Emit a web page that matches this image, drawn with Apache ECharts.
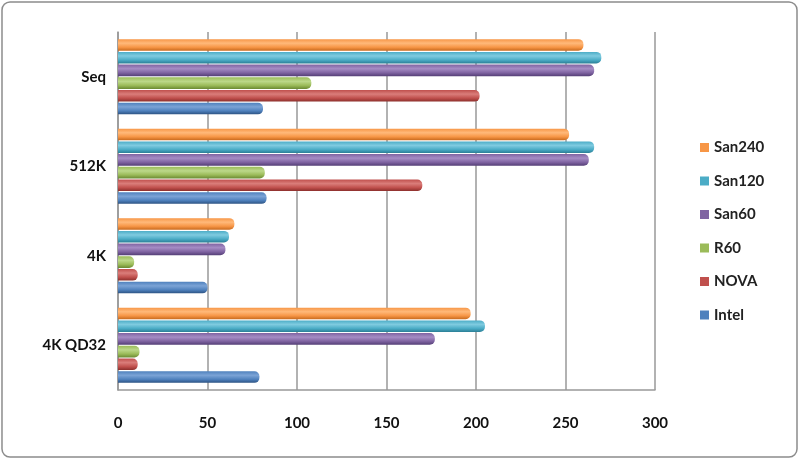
<!DOCTYPE html>
<html>
<head>
<meta charset="utf-8">
<script src="https://cdn.jsdelivr.net/npm/echarts@6/dist/echarts.min.js"></script>
<style>
  html, body { margin: 0; padding: 0; background: #fff; }
  #chart { width: 800px; height: 460px; }
</style>
</head>
<body>
<div id="chart"></div>
<script>
const categories = ['4K QD32', '4K', '512K', 'Seq'];
const seriesNames = ['Intel', 'NOVA', 'R60', 'San60', 'San120', 'San240'];
const intel  = [79, 50, 83, 81];
const nova   = [11, 11, 170, 202];
const r60    = [12, 9, 82, 108];
const san60  = [177, 60, 263, 266];
const san120 = [205, 62, 266, 270];
const san240 = [197, 65, 252, 260];
const xTicks = [0, 50, 100, 150, 200, 250, 300];

const values = [intel, nova, r60, san60, san120, san240];
const colors = ['#4F81BD', '#C0504D', '#9BBB59', '#8064A2', '#4BACC6', '#F79646'];
const darks  = ['#2c5282', '#8b2e2b', '#6b8a33', '#553f77', '#2b7f96', '#c86a1e'];
const lights = ['#7ba3d6', '#da7d7a', '#bcd88a', '#a58cc4', '#7fcbe0', '#ffb97a'];

const chart = echarts.init(document.getElementById('chart'));

// ECharts stacks the first series on top in a horizontal group, so go San240 -> Intel
const order = [5, 4, 3, 2, 1, 0];
const series = order.map(i => ({
    name: seriesNames[i],
    type: 'bar',
    data: values[i],
    barCategoryGap: '16%',
    barGap: '10%',
    itemStyle: {
        color: {
            type: 'linear', x: 0, y: 0, x2: 0, y2: 1,
            colorStops: [
                { offset: 0, color: colors[i] },
                { offset: 0.35, color: lights[i] },
                { offset: 0.7, color: colors[i] },
                { offset: 1, color: darks[i] }
            ]
        },
        borderRadius: [0, 5, 5, 0]
    }
}));

chart.setOption({
    animation: false,
    grid: { left: 118, right: 145, top: 32, bottom: 70 },
    legend: {
        orient: 'vertical',
        left: 695,
        top: 135,
        itemWidth: 9,
        itemHeight: 9,
        itemGap: 18.5,
        icon: 'rect',
        data: order.map(i => ({ name: seriesNames[i], itemStyle: { color: colors[i] } })),
        textStyle: { fontFamily: 'Lato', fontWeight: 'bold', fontSize: 15, color: '#222' }
    },
    xAxis: {
        type: 'value',
        min: xTicks[0],
        max: xTicks[xTicks.length - 1],
        interval: 50,
        axisLine: { show: true, lineStyle: { color: '#999', width: 1.5 } },
        axisTick: { show: false },
        splitLine: { show: true, lineStyle: { color: '#999', width: 1.5 } },
        axisLabel: { margin: 26, fontFamily: 'Lato', fontWeight: 'bold', fontSize: 15, color: '#111' }
    },
    yAxis: {
        type: 'category',
        data: categories,
        axisLine: { show: true, lineStyle: { color: '#999', width: 1.5 } },
        axisTick: { show: false },
        axisLabel: { margin: 12, fontFamily: 'Lato', fontWeight: 'bold', fontSize: 15, color: '#111' }
    },
    graphic: [{
        type: 'rect',
        shape: { x: 2, y: 2, width: 795, height: 455, r: 8 },
        style: { fill: 'none', stroke: '#8c8c8c', lineWidth: 1.5 },
        silent: true
    }],
    series: series
});
window.addEventListener('resize', () => chart.resize());
</script>
</body>
</html>
